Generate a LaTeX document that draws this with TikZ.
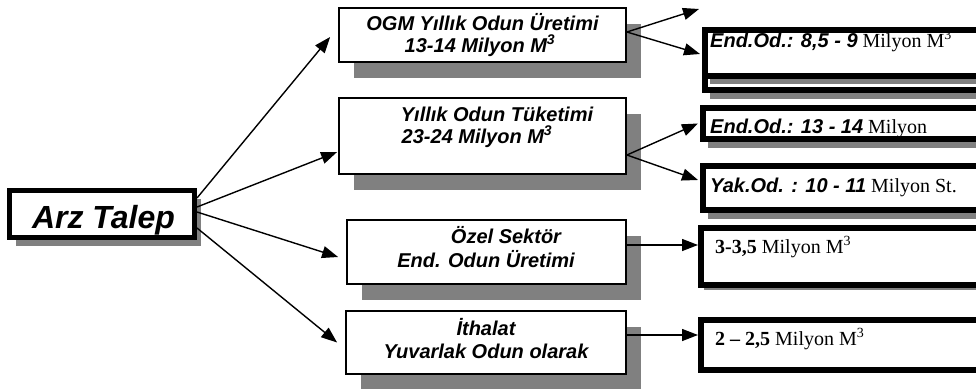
\documentclass[tikz,border=0pt]{standalone}
\usepackage{fontspec}
\setmainfont{Liberation Serif}
\setsansfont{Liberation Sans}
\usetikzlibrary{shadows,arrows.meta}
\begin{document}
\begin{tikzpicture}[x=1pt,y=-1pt,
  arzbox/.style={draw,line width=5pt,fill=white,inner sep=0pt,
    drop shadow={shadow xshift=6pt,shadow yshift=-8pt,fill=gray,opacity=1}},
  midbox/.style={draw,line width=1.8pt,fill=white,inner sep=0pt,
    drop shadow={shadow xshift=15pt,shadow yshift=-16pt,fill=gray,opacity=1}},
  rbox/.style={draw,line width=6pt,fill=white,inner sep=0pt},
  rshadow/.style 2 args={drop shadow={shadow xshift=#1,shadow yshift=#2,fill=gray,opacity=1}},
  arr/.style={-{Triangle[length=16pt,width=12pt]},line width=1.4pt},
  arztxt/.style={font=\fontsize{32}{34}\selectfont\sffamily\bfseries\itshape,anchor=base,inner sep=0pt},
  midtxt/.style={font=\fontsize{20}{22}\selectfont\sffamily\bfseries\itshape,anchor=base,inner sep=0pt},
  rtxt/.style={font=\fontsize{20}{22}\selectfont,anchor=base west,inner sep=0pt}]
\newcommand\bsi{\sffamily\bfseries\itshape}
\useasboundingbox (0,0) rectangle (976,388);

% left box
\node[arzbox,minimum width=185pt,minimum height=47pt] (arz) at (102,214) {};
\node[arztxt] (arzt) at (103.5,228) {Arz Talep};

% middle boxes
\node[midbox,minimum width=287pt,minimum height=54pt] (b1) at (482.5,35) {};
\node[midtxt] (b1a) at (482.5,30) {OGM Yıllık Odun Üretimi};
\node[midtxt] (b1b) at (480,52) {13-14 Milyon M\textsuperscript{3}};

\node[midbox,minimum width=287pt,minimum height=76pt] (b2) at (482.5,136) {};
\node[midtxt] (b2a) at (497,121) {Yıllık Odun Tüketimi};
\node[midtxt] (b2b) at (477,143) {23-24 Milyon M\textsuperscript{3}};

\node[midbox,minimum width=279pt,minimum height=64pt] (b3) at (486.5,252) {};
\node[midtxt] (b3a) at (506,243) {Özel Sektör};
\node[midtxt] (b3b) at (486,267) {End. Odun Üretimi};

\node[midbox,minimum width=280pt,minimum height=63pt] (b4) at (486,342.5) {};
\node[midtxt] (b4a) at (486,335) {İthalat};
\node[midtxt] (b4b) at (486,358) {Yuvarlak Odun olarak};

% right boxes
\node[rbox,rshadow={5pt}{-9pt},minimum width=285pt,minimum height=60pt] (r1b) at (847.5,60) {};
\node[rbox,rshadow={5pt}{-8pt},minimum width=285pt,minimum height=46pt] (r1) at (847.5,53) {};
\node[rtxt] (r1t) at (710,47) {{\bsi End.Od.: 8,5 - 9} Milyon M\textsuperscript{3}};

\node[rbox,rshadow={5pt}{-9pt},minimum width=287pt,minimum height=31pt] (r2) at (846.5,123.5) {};
\node[rtxt] (r2t) at (710,133) {{\bsi End.Od.: 13 - 14} Milyon};

\node[rbox,rshadow={5pt}{-9pt},minimum width=287pt,minimum height=44pt] (r3) at (846.5,188) {};
\node[rtxt] (r3t) at (710,192) {{\bsi Yak.Od. : 10 - 11} Milyon St.};

\node[rbox,rshadow={3pt}{-5pt},minimum width=289pt,minimum height=57pt] (r4) at (845.5,256.5) {};
\node[rtxt] (r4t) at (715,253) {\textbf{3-3,5} Milyon M\textsuperscript{3}};

\node[rbox,minimum width=289pt,minimum height=50pt] (r5) at (845.5,345) {};
\node[rtxt] (r5t) at (715,345) {\textbf{2 – 2,5} Milyon M\textsuperscript{3}};

% connectors
\draw[arr] ([yshift=16pt]arz.east) -- ([xshift=-8pt,yshift=-2pt]b1.west);
\draw[arr] ([yshift=7pt]arz.east) -- ([xshift=-1pt,yshift=-16pt]b2.west);
\draw[arr] ([yshift=2pt]arz.east) -- ([xshift=-8pt,yshift=-5pt]b3.west);
\draw[arr] ([yshift=-14pt]arz.east) -- ([xshift=-8pt]b4.west);

\coordinate (free) at (699,9);
\draw[arr] ([yshift=3pt]b1.east) -- (free);
\draw[arr] ([yshift=3pt]b1.east) -- ([xshift=-2pt,yshift=-1pt]r1.west);
\draw[arr] ([yshift=-19pt]b2.east) -- ([xshift=-2pt]r2.west);
\draw[arr] ([yshift=-19pt]b2.east) -- ([xshift=-2pt,yshift=8pt]r3.west);
\draw[arr] ([yshift=7pt]b3.east) -- ([yshift=11.5pt]r4.west);
\draw[arr] ([yshift=7.5pt]b4.east) -- ([yshift=10pt]r5.west);
\end{tikzpicture}
\end{document}
